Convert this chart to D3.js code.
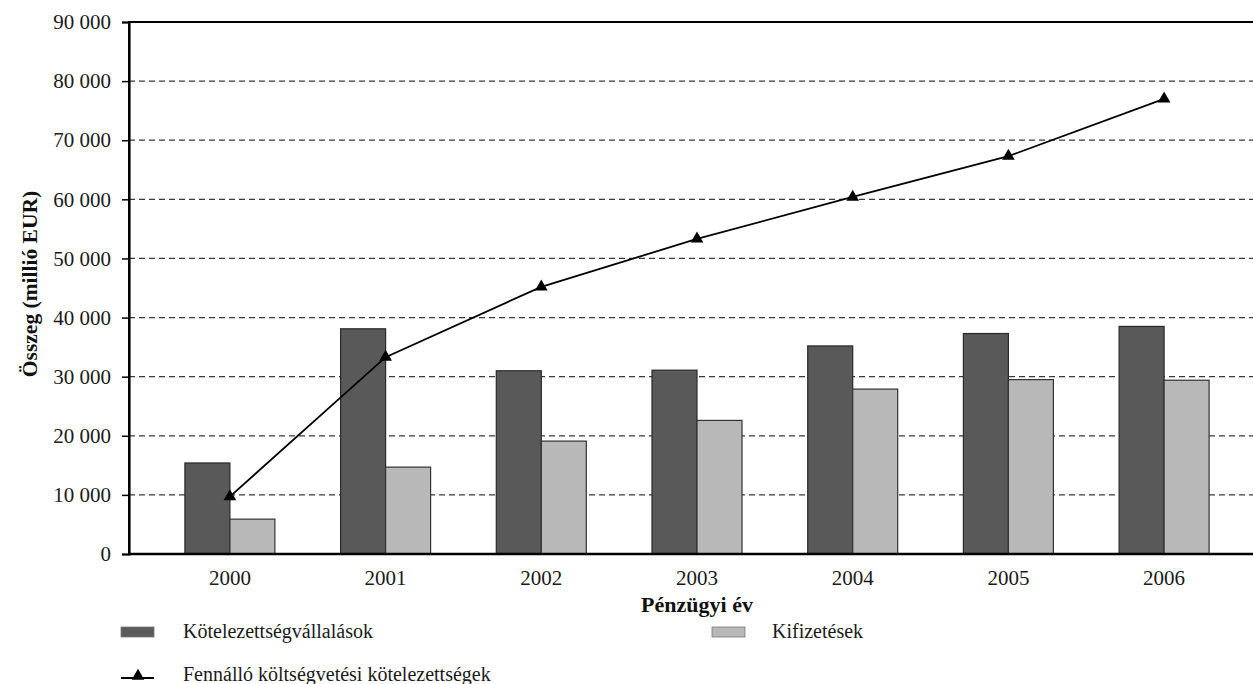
<!DOCTYPE html>
<html>
<head>
<meta charset="utf-8">
<script src="https://cdn.jsdelivr.net/npm/d3@7"></script>
<style>
  html, body { margin: 0; padding: 0; background: #fff; }
  svg { display: block; font-family: "Liberation Serif", "DejaVu Serif", serif; }
</style>
</head>
<body>
<svg id="chart" width="1253" height="684"></svg>
<script>
// Pénzügyi évek
const years = ["2000", "2001", "2002", "2003", "2004", "2005", "2006"];
// Kötelezettségvállalások (millió EUR)
const commitments = [15400, 38100, 31000, 31100, 35200, 37300, 38500];
// Kifizetések (millió EUR)
const payments = [5900, 14700, 19100, 22600, 27900, 29500, 29400];
// Fennálló költségvetési kötelezettségek (millió EUR)
const outstanding = [9700, 33300, 45200, 53300, 60400, 67300, 77000];
// Y tengely osztásai
const yTicks = [0, 10000, 20000, 30000, 40000, 50000, 60000, 70000, 80000, 90000];

const seriesNames = ["Kötelezettségvállalások", "Kifizetések"];
const seriesColors = { "Kötelezettségvállalások": "#595959", "Kifizetések": "#b8b8b8" };
const seriesStroke = { "Kötelezettségvállalások": "#2a2a2a", "Kifizetések": "#333333" };

const svg = d3.select("#chart");
const plot = { left: 129, top: 22, right: 1265, bottom: 554 };

const x0 = d3.scaleBand()
  .domain(years)
  .range([plot.left, plot.right])
  .paddingInner(0)
  .paddingOuter(0.148);

const x1 = d3.scaleBand()
  .domain(seriesNames)
  .range([0, x0.bandwidth()])
  .paddingInner(0)
  .paddingOuter(0.73);

const y = d3.scaleLinear()
  .domain([0, 90000])
  .range([plot.bottom, plot.top]);

const fmt = v => d3.format(",")(v).replace(/,/g, " ");

// Vízszintes szaggatott rácsvonalak
svg.append("g")
  .selectAll("line")
  .data(yTicks.filter(t => t > 0 && t < 90000))
  .join("line")
  .attr("x1", plot.left)
  .attr("x2", plot.right)
  .attr("y1", d => y(d))
  .attr("y2", d => y(d))
  .attr("stroke", "#3a3a3a")
  .attr("stroke-width", 1.3)
  .attr("stroke-dasharray", "6,4");

// Oszlopok
const rows = years.map((yr, i) => ({
  year: yr,
  values: [
    { key: seriesNames[0], value: commitments[i] },
    { key: seriesNames[1], value: payments[i] }
  ]
}));

svg.append("g")
  .selectAll("g")
  .data(rows)
  .join("g")
  .attr("transform", d => `translate(${x0(d.year)},0)`)
  .selectAll("rect")
  .data(d => d.values)
  .join("rect")
  .attr("x", d => x1(d.key))
  .attr("width", x1.bandwidth())
  .attr("y", d => y(d.value))
  .attr("height", d => y(0) - y(d.value))
  .attr("fill", d => seriesColors[d.key])
  .attr("stroke", d => seriesStroke[d.key])
  .attr("stroke-width", 1.2);

// Vonal a fennálló kötelezettségekhez
const xc = yr => x0(yr) + x0.bandwidth() / 2;
const line = d3.line()
  .x((d, i) => xc(years[i]))
  .y(d => y(d));

svg.append("path")
  .datum(outstanding)
  .attr("d", line)
  .attr("fill", "none")
  .attr("stroke", "#000")
  .attr("stroke-width", 1.8);

const tri = d3.symbol().type(d3.symbolTriangle).size(70);
svg.append("g")
  .selectAll("path")
  .data(outstanding)
  .join("path")
  .attr("d", tri)
  .attr("transform", (d, i) => `translate(${xc(years[i])},${y(d)})`)
  .attr("fill", "#000");

// Keret: felső és jobb oldali vonal
svg.append("rect")
  .attr("x", plot.left)
  .attr("y", plot.top)
  .attr("width", plot.right - plot.left)
  .attr("height", plot.bottom - plot.top)
  .attr("fill", "none")
  .attr("stroke", "#000")
  .attr("stroke-width", 2);

// Y tengely
const yAxis = svg.append("g")
  .attr("transform", `translate(${plot.left},0)`)
  .call(d3.axisLeft(y).tickValues(yTicks).tickFormat(fmt).tickSize(7).tickPadding(11));
yAxis.select(".domain").attr("stroke", "#000").attr("stroke-width", 2.2);
yAxis.selectAll(".tick line").attr("stroke", "#000").attr("stroke-width", 1.5);
yAxis.selectAll(".tick text")
  .attr("fill", "#1a1a1a")
  .style("font-size", "21px")
  .style("font-family", "'Liberation Serif', serif");

// X tengely
const xAxis = svg.append("g")
  .attr("transform", `translate(0,${plot.bottom})`)
  .call(d3.axisBottom(x0).tickSize(0).tickPadding(16));
xAxis.select(".domain").attr("stroke", "#000").attr("stroke-width", 2.6)
  .attr("d", `M${plot.left},0H${plot.right}`);
xAxis.selectAll(".tick text")
  .attr("fill", "#1a1a1a")
  .style("font-size", "21px")
  .style("font-family", "'Liberation Serif', serif");

// Tengelycímek
svg.append("text")
  .attr("x", (plot.left + plot.right) / 2)
  .attr("y", 612)
  .attr("text-anchor", "middle")
  .attr("font-weight", "bold")
  .attr("font-size", 22)
  .attr("fill", "#111")
  .text("Pénzügyi év");

svg.append("text")
  .attr("transform", `translate(37,${(plot.top + plot.bottom) / 2 - 4}) rotate(-90)`)
  .attr("text-anchor", "middle")
  .attr("font-weight", "bold")
  .attr("font-size", 21.5)
  .attr("fill", "#111")
  .text("Összeg (millió EUR)");

// Jelmagyarázat
const legend = svg.append("g");
const legendItems = [
  { type: "bar", key: seriesNames[0], sx: 121, tx: 183, y: 632 },
  { type: "bar", key: seriesNames[1], sx: 712, tx: 772, y: 632 }
];
legendItems.forEach(it => {
  legend.append("rect")
    .attr("x", it.sx).attr("y", it.y - 5)
    .attr("width", 33).attr("height", 10)
    .attr("fill", seriesColors[it.key])
    .attr("stroke", "#777").attr("stroke-width", 0.8);
  legend.append("text")
    .attr("x", it.tx).attr("y", it.y + 6)
    .attr("font-size", 20).attr("fill", "#1a1a1a")
    .text(it.key);
});
legend.append("line")
  .attr("x1", 121).attr("x2", 154)
  .attr("y1", 678).attr("y2", 678)
  .attr("stroke", "#000").attr("stroke-width", 1.8);
legend.append("path")
  .attr("d", tri)
  .attr("transform", "translate(138,676)")
  .attr("fill", "#000");
legend.append("text")
  .attr("x", 183).attr("y", 681)
  .attr("font-size", 20).attr("fill", "#1a1a1a")
  .text("Fennálló költségvetési kötelezettségek");
</script>
</body>
</html>
